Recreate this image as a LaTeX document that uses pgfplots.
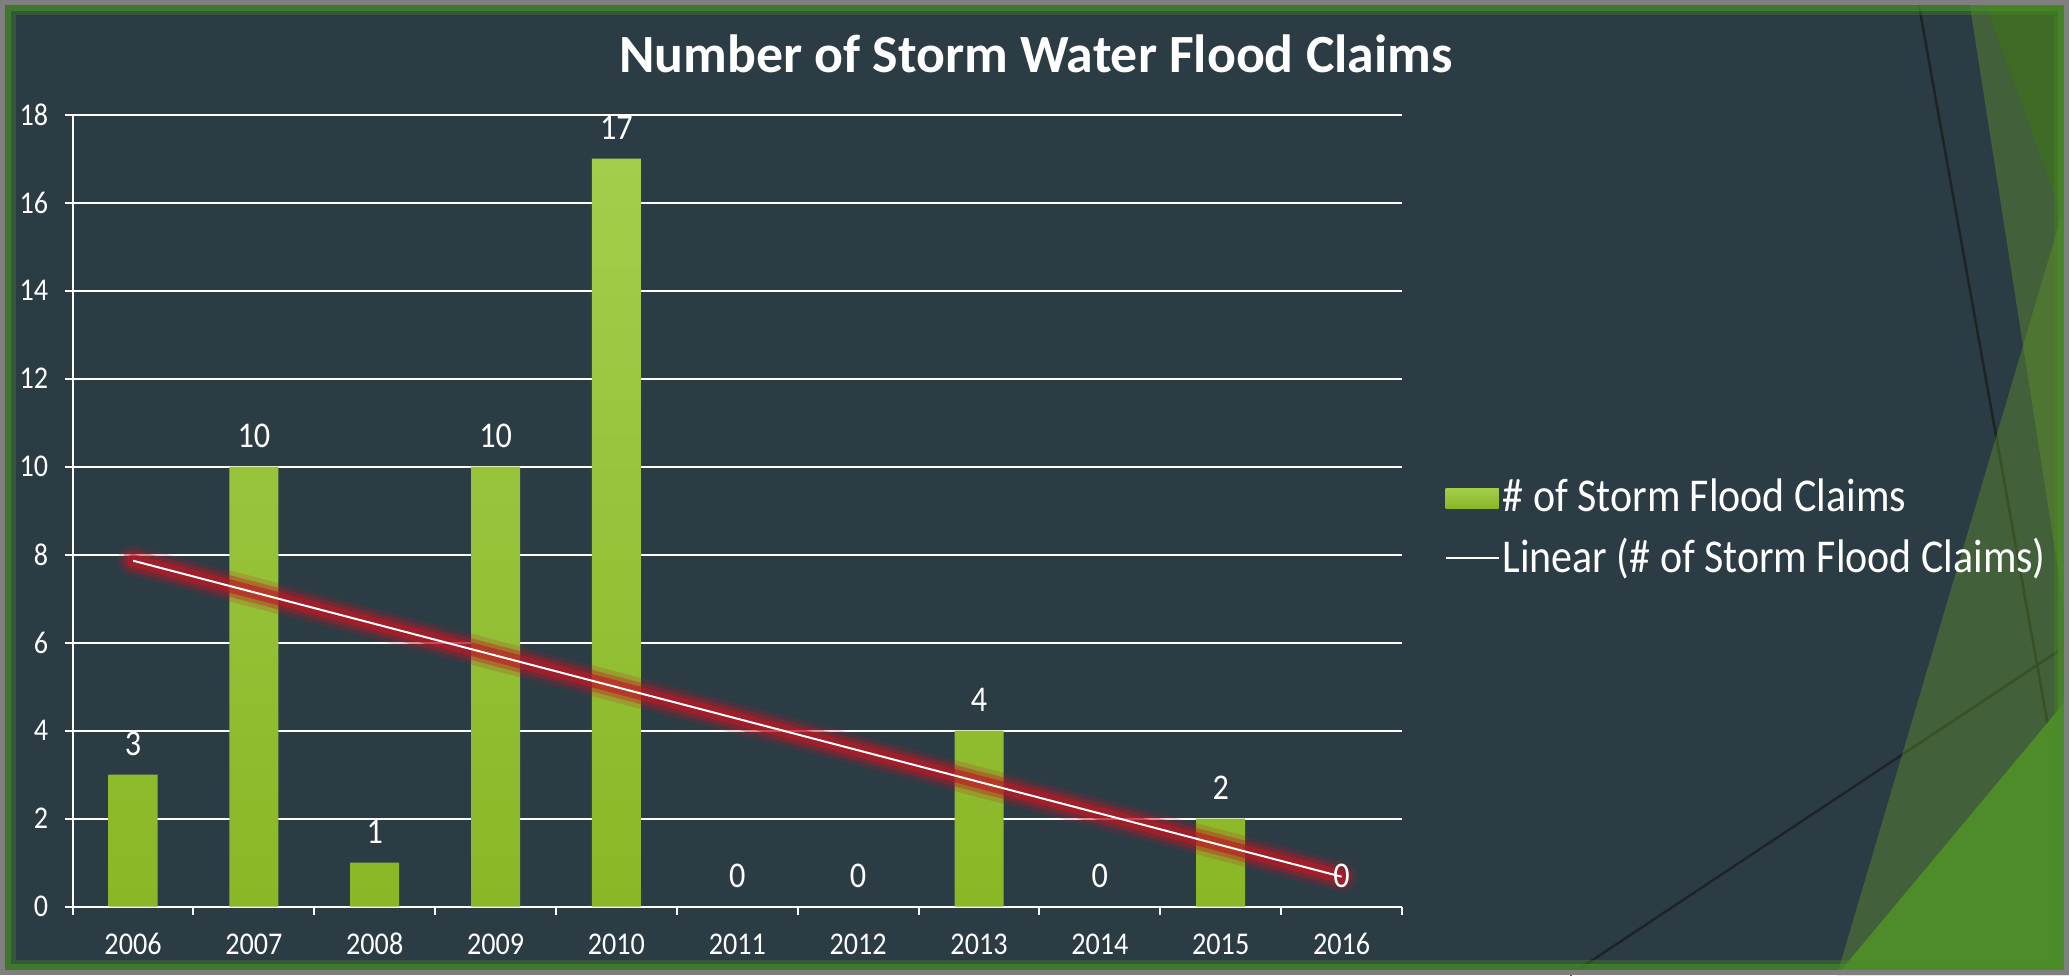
\documentclass[border=0pt]{standalone}
\usepackage{fontspec}
\setmainfont{Carlito}[FakeStretch=0.89]
\newfontfamily\titlefont{Carlito}
\usepackage{pgfplots}
\pgfplotsset{compat=1.18}
\definecolor{bg}{RGB}{44,60,69}
\definecolor{bartop}{RGB}{162,206,76}
\definecolor{barbot}{RGB}{138,183,38}
\definecolor{glow}{RGB}{190,22,36}
\definecolor{facetA}{RGB}{100,150,40}
\definecolor{facetB}{RGB}{62,107,38}
\definecolor{facetD}{RGB}{78,140,42}
\definecolor{framegray}{RGB}{127,127,127}
\definecolor{framegreen}{RGB}{72,140,40}
\definecolor{darkline}{RGB}{30,36,38}
\begin{document}
\begin{tikzpicture}
\fill[bg] (0,0) rectangle (20.69,9.75);
\draw[darkline, line width=0.025cm] (19.18,9.75) -- (20.69,1.32);
\draw[darkline, line width=0.025cm] (15.70,0) -- (20.69,3.31);
\fill[facetA, opacity=0.4] (19.69,9.75) -- (20.69,9.75) -- (20.69,3.35) -- cycle;
\fill[facetA, opacity=0.4] (20.69,7.85) -- (18.37,0) -- (20.69,0) -- cycle;
\fill[facetB] (19.84,9.75) -- (20.69,9.75) -- (20.69,7.40) -- cycle;
\fill[facetD] (18.37,0) -- (20.69,2.78) -- (20.69,0) -- cycle;

\node[anchor=base, text=white, font=\titlefont\bfseries\fontsize{15.3}{18}\selectfont] at (10.36,9.02) {Number of Storm Water Flood Claims};

\begin{axis}[
  at={(0.726cm,0.683cm)}, anchor=south west,
  scale only axis, width=13.294cm, height=7.92cm,
  xmin=-0.5, xmax=10.5, ymin=0, ymax=18,
  ytick={0,2,...,18},
  xtick={-0.5,0.5,...,10.5},
  x tick label as interval,
  xticklabels={2006,2007,2008,2009,2010,2011,2012,2013,2014,2015,2016},
  axis x line*=bottom, axis y line*=left,
  axis line style={white, line width=0.02cm, -},
  tick style={white, line width=0.02cm},
  major tick length=0.08cm,
  tick align=outside,
  ymajorgrids, grid style={white, line width=0.02cm},
  ticklabel style={text=white, font=\fontsize{9}{10}\selectfont},
  yticklabel style={xshift=-0.04cm},
  xticklabel style={yshift=-0.05cm, text height=0.64em, text depth=0pt},
  /pgf/number format/assume math mode=true,
  legend style={at={(1.0316,0.4775)}, anchor=west, draw=none, fill=none, text=white,
    font=\fontsize{13.4}{15}\selectfont, inner sep=0pt, row sep=0.15cm, nodes={inner sep=0.03cm}},
  legend cell align=left,
]
\addplot[ybar, bar width=0.49cm, draw=none, top color=bartop, bottom color=barbot,
  nodes near coords,
  every node near coord/.append style={text=white, font=\fontsize{10.3}{12}\selectfont, anchor=base, yshift=0.19cm},
  legend image code/.code={\fill[bartop!60!barbot] (0cm,-0.1cm) rectangle (0.53cm,0.1cm);}]
  coordinates {(0,3) (1,10) (2,1) (3,10) (4,17) (7,4) (9,2)};
\addlegendentry{\# of Storm Flood Claims}
\addplot[ybar, bar width=0.49cm, draw=none, fill=none, forget plot,
  nodes near coords,
  every node near coord/.append style={text=white, font=\fontsize{10.3}{12}\selectfont, anchor=base, yshift=0.19cm}]
  coordinates {(5,0) (6,0) (8,0) (10,0)};
\addplot[glow, opacity=0.18, line width=0.3cm, line cap=round, forget plot] coordinates {(0,7.864) (10,0.682)};
\addplot[glow, opacity=0.35, line width=0.21cm, line cap=round, forget plot] coordinates {(0,7.864) (10,0.682)};
\addplot[glow, opacity=0.6, line width=0.13cm, line cap=round, forget plot] coordinates {(0,7.864) (10,0.682)};
\addplot[white, line width=0.02cm,
  legend image code/.code={\draw[white, line width=0.02cm] (0cm,0cm) -- (0.53cm,0cm);}]
  coordinates {(0,7.864) (10,0.682)};
\addlegendentry{Linear (\# of Storm Flood Claims)}
\end{axis}

\draw[framegreen, opacity=0.35, line width=0.05cm] (0.13,0.13) rectangle (20.56,9.62);
\draw[framegreen, opacity=0.75, line width=0.06cm] (0.08,0.08) rectangle (20.61,9.67);
\draw[framegray, line width=0.05cm] (0.025,0.025) rectangle (20.665,9.725);
\pgfresetboundingbox
\useasboundingbox (0,0) rectangle (20.69,9.75);
\end{tikzpicture}
\end{document}
